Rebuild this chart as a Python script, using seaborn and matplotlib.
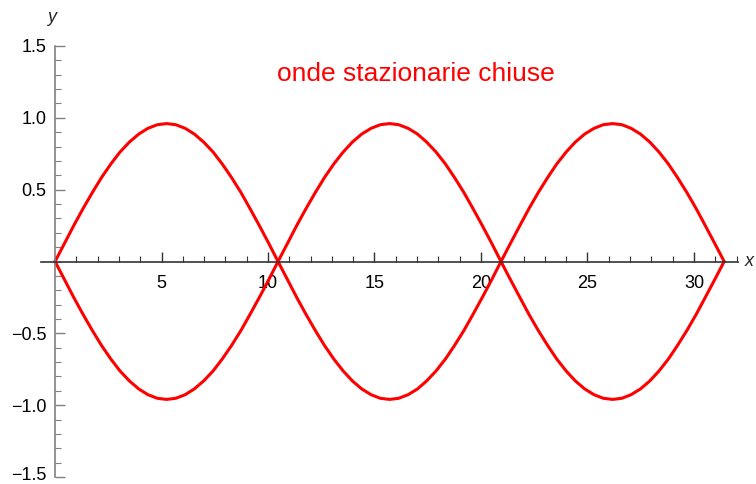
import matplotlib
matplotlib.use("Agg")
import matplotlib.pyplot as plt
import matplotlib.transforms as mtransforms
import seaborn as sns
from matplotlib.ticker import MultipleLocator, FixedLocator

# ================================
# Data
# ================================
x_vals = [0.00, 0.44, 0.87, 1.31, 1.75, 2.18, 2.62, 3.05, 3.49, 3.93, 4.36, 4.80,
          5.24, 5.67, 6.11, 6.54, 6.98, 7.42, 7.85, 8.29, 8.73, 9.16, 9.60, 10.04,
          10.47, 10.91, 11.34, 11.78, 12.22, 12.65, 13.09, 13.53, 13.96, 14.40, 14.84, 15.27,
          15.71, 16.14, 16.58, 17.02, 17.45, 17.89, 18.33, 18.76, 19.20, 19.63, 20.07, 20.51,
          20.94, 21.38, 21.82, 22.25, 22.69, 23.13, 23.56, 24.00, 24.43, 24.87, 25.31, 25.74,
          26.18, 26.62, 27.05, 27.49, 27.93, 28.36, 28.80, 29.23, 29.67, 30.11, 30.54, 30.98,
          31.42]
upper = [0.000, 0.125, 0.248, 0.367, 0.480, 0.584, 0.679, 0.762, 0.831, 0.887, 0.927, 0.952,
         0.960, 0.952, 0.927, 0.887, 0.831, 0.762, 0.679, 0.584, 0.480, 0.367, 0.248, 0.125,
         0.000, 0.125, 0.248, 0.367, 0.480, 0.584, 0.679, 0.762, 0.831, 0.887, 0.927, 0.952,
         0.960, 0.952, 0.927, 0.887, 0.831, 0.762, 0.679, 0.584, 0.480, 0.367, 0.248, 0.125,
         0.000, 0.125, 0.248, 0.367, 0.480, 0.584, 0.679, 0.762, 0.831, 0.887, 0.927, 0.952,
         0.960, 0.952, 0.927, 0.887, 0.831, 0.762, 0.679, 0.584, 0.480, 0.367, 0.248, 0.125,
         0.000]
lower = [0.000, -0.125, -0.248, -0.367, -0.480, -0.584, -0.679, -0.762, -0.831, -0.887, -0.927, -0.952,
         -0.960, -0.952, -0.927, -0.887, -0.831, -0.762, -0.679, -0.584, -0.480, -0.367, -0.248, -0.125,
         0.000, -0.125, -0.248, -0.367, -0.480, -0.584, -0.679, -0.762, -0.831, -0.887, -0.927, -0.952,
         -0.960, -0.952, -0.927, -0.887, -0.831, -0.762, -0.679, -0.584, -0.480, -0.367, -0.248, -0.125,
         0.000, -0.125, -0.248, -0.367, -0.480, -0.584, -0.679, -0.762, -0.831, -0.887, -0.927, -0.952,
         -0.960, -0.952, -0.927, -0.887, -0.831, -0.762, -0.679, -0.584, -0.480, -0.367, -0.248, -0.125,
         0.000]
x_ticks = [5, 10, 15, 20, 25, 30]
y_ticks = [-1.5, -1.0, -0.5, 0.5, 1.0, 1.5]
y_tick_labels = ["\u22121.5", "\u22121.0", "\u22120.5", "0.5", "1.0", "1.5"]

# ================================
# Plot
# ================================
sns.set_style("white")
plt.rcParams["font.family"] = ["Liberation Sans", "DejaVu Sans"]

fig = plt.figure(figsize=(7.56, 4.84), dpi=100)
ax = fig.add_axes([41 / 756, 7 / 484, 697 / 756, 431 / 484])

sns.lineplot(x=x_vals, y=upper, ax=ax, color="#ff0000", linewidth=2.2, estimator=None)
sns.lineplot(x=x_vals, y=lower, ax=ax, color="#ff0000", linewidth=2.2, estimator=None)

ax.set_xlim(-0.66, 32.07)
ax.set_ylim(-1.5, 1.5)

# Mathematica-style axes through the origin
for side in ["top", "right"]:
    ax.spines[side].set_visible(False)
ax.spines["left"].set_position(("data", 0))
ax.spines["bottom"].set_position(("data", 0))
ax.spines["left"].set_color("#808080")
ax.spines["bottom"].set_color("#333333")
ax.spines["left"].set_linewidth(1.2)
ax.spines["bottom"].set_linewidth(1.2)

ax.xaxis.set_major_locator(FixedLocator(x_ticks))
ax.xaxis.set_minor_locator(MultipleLocator(1))
ax.set_yticks(y_ticks)
ax.set_yticklabels(y_tick_labels)
ax.yaxis.set_minor_locator(MultipleLocator(0.1))

ax.tick_params(axis="x", which="both", bottom=True, direction="in", color="#333333")
ax.tick_params(axis="y", which="both", left=True, direction="in", color="#808080")
ax.tick_params(axis="x", which="major", length=7, width=1, labelsize=13, labelcolor="black", pad=10)
ax.tick_params(axis="x", which="minor", length=4, width=0.8)
ax.tick_params(axis="y", which="major", length=7, width=1, labelsize=13, labelcolor="black", pad=6)
ax.tick_params(axis="y", which="minor", length=4, width=0.8)
ax.set_xlabel("")
ax.set_ylabel("")

# nudge the bottom y label up a little so it stays inside the figure
bottom_label = ax.get_yticklabels()[0]
bottom_label.set_transform(bottom_label.get_transform() +
                           mtransforms.ScaledTranslation(0, 3 / 100, fig.dpi_scale_trans))

fig.text(52 / 756, 1 - 18 / 484, "y", fontsize=13, style="italic", ha="center", va="center")
fig.text(745 / 756, 1 - 262 / 484, "x", fontsize=13, style="italic", ha="left", va="center")
fig.text(416 / 756, 1 - 74 / 484, "onde stazionarie chiuse", fontsize=19, color="#ff0000",
         ha="center", va="center")

plt.savefig("out.png", dpi=100)
